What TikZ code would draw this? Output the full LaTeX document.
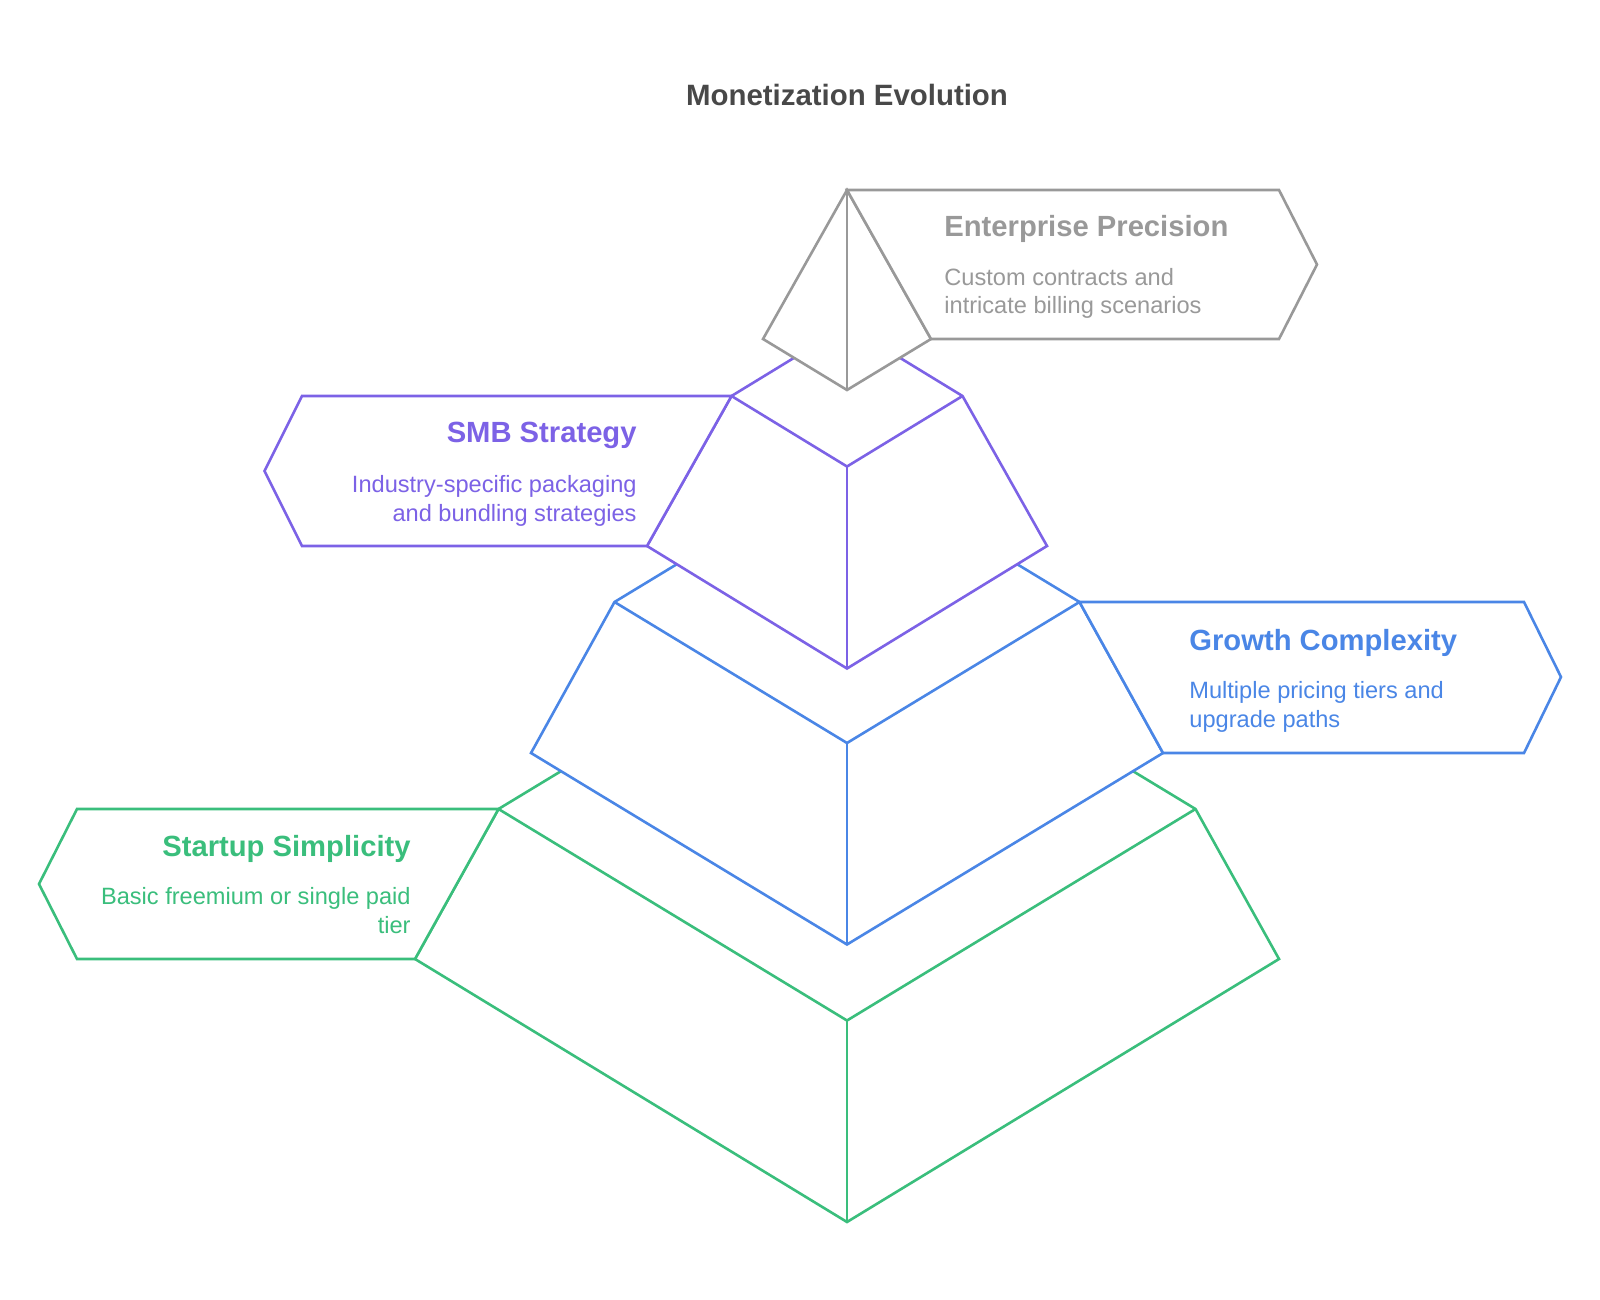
\documentclass[tikz,border=0pt]{standalone}
\usepackage{fontspec}
\setmainfont{Liberation Sans}
\usepackage{tikz}
\usepackage{xcolor}
\usetikzlibrary{positioning, calc}

\definecolor{entgray}{RGB}{153,153,153}
\definecolor{smbpurple}{RGB}{124,98,230}
\definecolor{growblue}{RGB}{74,134,230}
\definecolor{startgreen}{RGB}{58,190,124}
\definecolor{titlegray}{RGB}{72,72,72}

\begin{document}
\begin{tikzpicture}[x=0.5pt, y=-0.5pt,
  edge/.style={line width=1.3pt},
  face/.style={edge, fill=white},
  heading/.style={font=\fontsize{14.6}{17}\selectfont\bfseries, inner sep=0pt},
  desc/.style={font=\fontsize{11.8}{14.3}\selectfont, inner sep=0pt}]
\useasboundingbox (0,0) rectangle (1600,1300);

% Title
\node[font=\fontsize{14.7}{17}\selectfont\bfseries, text=titlegray, inner sep=0pt, anchor=base] (title) at (847,106) {Monetization Evolution};

% Tier 1: Startup Simplicity (green, bottom)
\coordinate (gK) at (847,598);
\coordinate (gL) at (498.5,809);
\coordinate (gR) at (1195.5,809);
\coordinate (gF) at (847,1020.5);
\coordinate (gBL) at (415,959);
\coordinate (gBR) at (1279,959);
\coordinate (gBF) at (847,1222);
\draw[face, draw=startgreen] (gK) -- (gL) -- (gBL) -- (gBF) -- (gBR) -- (gR) -- cycle;
\draw[edge, draw=startgreen] (gL) -- (gF) -- (gR);
\draw[edge, draw=startgreen] (gF) -- (gBF);
\draw[face, draw=startgreen] (gL) -- (77,809) -- (39,884) -- (77,959) -- (gBL) -- cycle;
\node[heading, text=startgreen, anchor=base east] (starthead) at (411,856) {Startup Simplicity};
\node[desc, text=startgreen, align=right, anchor=base east] (starttext) at (411,933) {Basic freemium or single paid\\tier};

% Tier 2: Growth Complexity (blue)
\coordinate (bK) at (847,461);
\coordinate (bL) at (614.5,602);
\coordinate (bR) at (1079.5,602);
\coordinate (bF) at (847,743);
\coordinate (bBL) at (531,753);
\coordinate (bBR) at (1163,753);
\coordinate (bBF) at (847,944.5);
\draw[face, draw=growblue] (bK) -- (bL) -- (bBL) -- (bBF) -- (bBR) -- (bR) -- cycle;
\draw[edge, draw=growblue] (bL) -- (bF) -- (bR);
\draw[edge, draw=growblue] (bF) -- (bBF);
\draw[face, draw=growblue] (bR) -- (1524,602) -- (1561,677) -- (1524,753) -- (bBR) -- cycle;
\node[heading, text=growblue, anchor=base west] (growhead) at (1189,650) {Growth Complexity};
\node[desc, text=growblue, align=left, anchor=base west] (growtext) at (1189,727) {Multiple pricing tiers and\\upgrade paths};

% Tier 3: SMB Strategy (purple)
\coordinate (pK) at (847,325.5);
\coordinate (pL) at (731.5,396);
\coordinate (pR) at (962.5,396);
\coordinate (pF) at (847,466.5);
\coordinate (pBL) at (647,546);
\coordinate (pBR) at (1047,546);
\coordinate (pBF) at (847,668.5);
\draw[face, draw=smbpurple] (pK) -- (pL) -- (pBL) -- (pBF) -- (pBR) -- (pR) -- cycle;
\draw[edge, draw=smbpurple] (pL) -- (pF) -- (pR);
\draw[edge, draw=smbpurple] (pF) -- (pBF);
\draw[face, draw=smbpurple] (pL) -- (302,396) -- (264.5,471) -- (302,546) -- (pBL) -- cycle;
\node[heading, text=smbpurple, anchor=base east] (smbhead) at (637,442) {SMB Strategy};
\node[desc, text=smbpurple, align=right, anchor=base east] (smbtext) at (637,521) {Industry-specific packaging\\and bundling strategies};

% Tier 4: Enterprise Precision (gray, top)
\coordinate (eT) at (847,190);
\coordinate (eL) at (763,339);
\coordinate (eR) at (931,339);
\coordinate (eB) at (847,390);
\draw[face, draw=entgray] (eT) -- (eL) -- (eB) -- (eR) -- cycle;
\draw[edge, draw=entgray] (eT) -- (eB);
\draw[face, draw=entgray] (eT) -- (1279,190) -- (1317,264.5) -- (1279,339) -- (eR) -- cycle;
\node[heading, text=entgray, anchor=base west] (enthead) at (944,237) {Enterprise Precision};
\node[desc, text=entgray, align=left, anchor=base west] (enttext) at (944,314) {Custom contracts and\\intricate billing scenarios};
\end{tikzpicture}
\end{document}
